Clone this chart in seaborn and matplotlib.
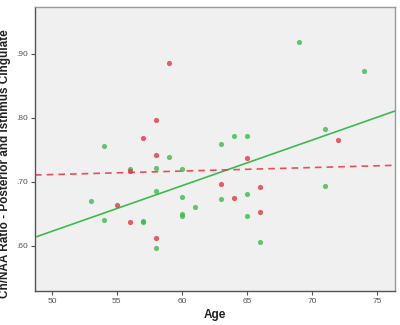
import matplotlib
matplotlib.use("Agg")
import matplotlib.pyplot as plt
import seaborn as sns
import numpy as np
import pandas as pd

# green group
age_g = [53, 54, 54, 56, 57, 57, 58, 58, 58, 59, 60, 60, 60, 60, 61,
         63, 63, 64, 65, 65, 65, 66, 69, 71, 71, 74]
ratio_g = [0.669, 0.640, 0.756, 0.719, 0.637, 0.638, 0.721, 0.685, 0.596, 0.738,
           0.720, 0.676, 0.650, 0.646, 0.661,
           0.759, 0.672, 0.771, 0.772, 0.680, 0.646, 0.605, 0.918, 0.783, 0.693, 0.873]

# red group
age_r = [55, 56, 56, 57, 58, 58, 58, 59, 63, 64, 65, 66, 66, 72]
ratio_r = [0.663, 0.717, 0.636, 0.769, 0.796, 0.741, 0.612, 0.886,
           0.697, 0.674, 0.737, 0.692, 0.653, 0.765]

green = "#3dba4e"
red = "#e8333f"

df_g = pd.DataFrame({"Age": age_g, "Ratio": ratio_g})
df_r = pd.DataFrame({"Age": age_r, "Ratio": ratio_r})

sns.set_style("white")
plt.rcParams["font.family"] = ["Liberation Sans", "DejaVu Sans"]

fig = plt.figure(figsize=(4, 3.25), dpi=100)
ax = fig.add_axes([0.0875, 0.105, 0.9, 0.873])
ax.set_facecolor("#f0f0f0")
ax.set_xlim(48.7, 76.4)
ax.set_ylim(0.529, 0.973)

sns.regplot(data=df_g, x="Age", y="Ratio", ax=ax, ci=None, truncate=False,
            scatter_kws={"s": 14, "color": green, "linewidths": 0, "zorder": 3},
            line_kws={"color": green, "lw": 1.2, "zorder": 2})
sns.regplot(data=df_r, x="Age", y="Ratio", ax=ax, ci=None, truncate=False,
            scatter_kws={"s": 14, "color": red, "linewidths": 0, "zorder": 4},
            line_kws={"color": red, "lw": 1.2, "ls": (0, (4, 3)), "alpha": 0.85, "zorder": 2})

ax.set_xlim(48.7, 76.4)
ax.set_ylim(0.529, 0.973)
ax.set_xticks([50, 55, 60, 65, 70, 75])
ax.set_yticks([0.60, 0.70, 0.80, 0.90])
ax.set_yticklabels([".60", ".70", ".80", ".90"])
ax.tick_params(axis="both", direction="out", length=3, width=0.8, colors="#555555",
               labelsize=6, labelcolor="#555555", pad=2)
ax.tick_params(axis="x", bottom=True)
ax.tick_params(axis="y", left=True)
for s in ax.spines.values():
    s.set_color("#999999")
    s.set_linewidth(1)
ax.spines["left"].set_color("#555555")
ax.spines["bottom"].set_color("#555555")

ax.set_xlabel("Age", fontsize=8.5, fontweight="bold", color="#222222", labelpad=3)
ax.set_ylabel("Ch/NAA Ratio - Posterior and Isthmus Cingulate", fontsize=8.5,
              fontweight="bold", color="#222222")
ax.yaxis.set_label_coords(-0.068, 0.45)

fig.savefig("out.png", dpi=100)
